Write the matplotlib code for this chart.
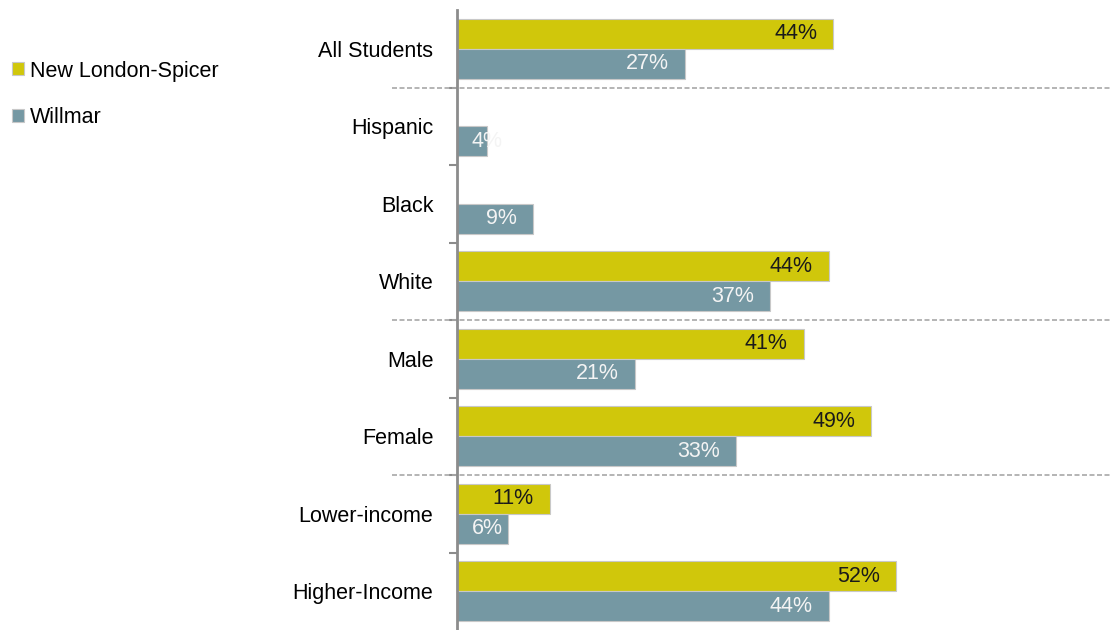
"""
Grouped horizontal bars - New London-Spicer vs Willmar by student group
"""

import matplotlib
matplotlib.use('Agg')
import matplotlib.pyplot as plt
import matplotlib.transforms as mtransforms
import numpy as np

matplotlib.rcParams['font.family'] = ['Liberation Sans', 'DejaVu Sans']
matplotlib.rcParams['font.size'] = 15

# Data (percent), None = not reported
categories = ['All Students', 'Hispanic', 'Black', 'White', 'Male', 'Female',
              'Lower-income', 'Higher-Income']
new_london = [44.5, None, None, 44, 41, 49, 11, 52]
willmar = [27, 3.5, 9, 37, 21, 33, 6, 44]
series_names = ['New London-Spicer', 'Willmar']
# group separators drawn after these category indexes
separators_after = [0, 3, 5]

yellow = '#d0c70b'
teal = '#7598a3'

fig = plt.figure(figsize=(11.12, 6.3), dpi=100)
ax = fig.add_axes([0.411, 0.0, 0.589, 0.984])

y = np.arange(len(categories))
h = 0.385

nl_vals = [v if v is not None else 0 for v in new_london]
bars_nl = ax.barh(y - h / 2, nl_vals, height=h, color=yellow,
                  edgecolor='#c8c8c8', linewidth=0.8, label=series_names[0])
bars_w = ax.barh(y + h / 2, willmar, height=h, color=teal,
                 edgecolor='#c8c8c8', linewidth=0.8, label=series_names[1])
for bar, v in zip(bars_nl, new_london):
    if v is None:
        bar.set_visible(False)

# value labels, inside end of bars
for yi, v in zip(y, new_london):
    if v is None:
        continue
    ax.text(max(v - 1.9, 5.4), yi - h / 2, f'{int(v)}%', ha='right', va='center',
            color='#1a1a1a', fontsize=15.5)
for yi, v in zip(y, willmar):
    ax.text(max(v - 1.9, 5.4), yi + h / 2, f'{v:.0f}%', ha='right', va='center',
            color='#f4f4f4', fontsize=15.5)

ax.set_xlim(0, 77.5)
ax.set_ylim(len(categories) - 0.5, -0.5)

ax.set_yticks(y)
ax.set_yticklabels(categories, fontsize=15.5)
ax.set_yticks(np.arange(len(categories) - 1) + 0.5, minor=True)
ax.tick_params(axis='y', which='major', length=0, pad=17)
ax.tick_params(axis='y', which='minor', length=6, width=1.5, color='#8c8c8c')
ax.set_xticks([])

for side in ['top', 'right', 'bottom']:
    ax.spines[side].set_visible(False)
ax.spines['left'].set_color('#8c8c8c')
ax.spines['left'].set_linewidth(2)

# dashed group separators reaching into the label area
trans = mtransforms.blended_transform_factory(ax.transAxes, ax.transData)
for idx in separators_after:
    ax.plot([-0.1, 1.0], [idx + 0.5, idx + 0.5], transform=trans, clip_on=False,
            color='#a8a8a8', linestyle=(0, (3, 1.5)), linewidth=1.2)

fig.legend(handles=[bars_nl, bars_w], labels=series_names, loc='upper left',
           bbox_to_anchor=(0.003, 0.9175), frameon=False, fontsize=15.5,
           handlelength=0.55, handleheight=0.55, handletextpad=0.3,
           borderpad=0.2, borderaxespad=0.2, labelspacing=1.2)

plt.savefig('out.png', dpi=100)
plt.close()
